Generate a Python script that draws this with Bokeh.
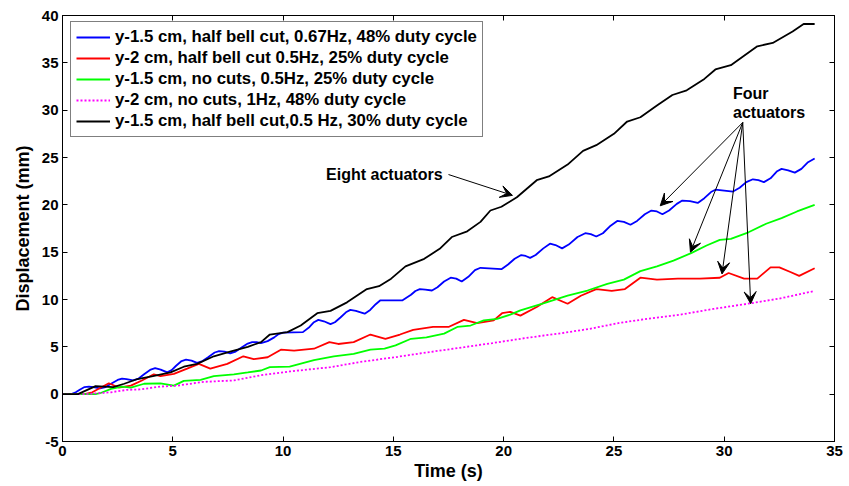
from bokeh.plotting import figure
from bokeh.models import Range1d, LinearAxis, Legend, LegendItem, Arrow, VeeHead, Label, FixedTicker
from bokeh.embed import file_html
from bokeh.resources import INLINE

# ---- data ----
blue_t = [0, 0.4, 0.6, 0.8, 1.0, 1.2, 1.4, 1.7, 1.95, 2.2, 2.5, 2.7, 2.9, 3.2, 3.45, 3.7, 4.0, 4.2, 4.45, 4.75,
          4.95, 5.15, 5.4, 5.6, 5.85, 6.1, 6.35, 6.6, 6.9, 7.1, 7.35, 7.6, 7.85, 8.1, 8.4, 8.6, 8.8, 9.0, 9.3,
          9.6, 9.8, 10.0, 10.9, 11.2, 11.4, 11.6, 11.85, 12.15, 12.35, 12.6, 12.85, 13.05, 13.3, 13.7, 13.95,
          14.2, 14.4, 15.4, 15.8, 16.0, 16.2, 16.45, 16.75, 17.0, 17.3, 17.6, 17.85, 18.1, 18.4, 18.7, 18.95,
          19.9, 20.2, 20.5, 20.8, 21.0, 21.2, 21.45, 21.8, 22.1, 22.35, 22.65, 22.95, 23.35, 23.7, 23.95, 24.2,
          24.5, 24.85, 25.15, 25.45, 25.75, 26.05, 26.4, 26.7, 26.95, 27.2, 27.5, 27.85, 28.1, 28.45, 28.8,
          29.1, 29.4, 29.6, 30.0, 30.4, 30.7, 31.0, 31.3, 31.55, 31.8, 32.1, 32.4, 32.6, 32.9, 33.2, 33.5,
          33.8, 34.1]
blue_y = [0, 0, 0.2, 0.5, 0.75, 0.8, 0.75, 0.6, 0.75, 1.1, 1.5, 1.65, 1.6, 1.45, 1.65, 2.1, 2.6, 2.75, 2.6, 2.3,
          2.55, 3.0, 3.5, 3.65, 3.55, 3.3, 3.5, 3.9, 4.4, 4.55, 4.5, 4.3, 4.5, 4.9, 5.35, 5.5, 5.5, 5.4, 5.6,
          6.0, 6.35, 6.5, 6.55, 7.1, 7.6, 7.85, 7.7, 7.4, 7.6, 8.1, 8.65, 8.9, 8.8, 8.5, 8.9,
          9.5, 9.9, 9.9, 10.5, 10.9, 11.1, 11.05, 10.95, 11.3, 11.9, 12.3, 12.2, 11.9, 12.4, 13.1, 13.35,
          13.2, 13.7, 14.3, 14.7, 14.6, 14.4, 14.7, 15.4, 15.9, 15.75, 15.4, 15.8, 16.6, 17.0, 16.9, 16.65,
          17.0, 17.8, 18.3, 18.2, 17.9, 18.3, 19.0, 19.4, 19.3, 19.0, 19.4, 20.1, 20.45, 20.4, 20.2,
          20.7, 21.35, 21.6, 21.5, 21.4, 21.8, 22.4, 22.7, 22.6, 22.4, 22.8, 23.55, 23.8, 23.65, 23.4, 23.8,
          24.5, 24.9]

red_t = [0, 1.0, 1.35, 2.1, 2.55, 3.1, 3.6, 4.14, 4.44, 5.05, 5.65, 6.18, 6.7, 7.47, 8.2, 8.67, 9.3, 9.9, 10.5,
         11.4, 12.1, 12.5, 13.2, 13.96, 14.64, 15.3, 15.9, 16.8, 17.5, 18.2, 18.8, 19.55, 19.93, 20.3, 20.76,
         21.5, 22.2, 22.9, 23.5, 24.2, 24.9, 25.5, 26.2, 26.95, 27.9, 28.9, 29.8, 30.2, 30.9, 31.5, 32.1, 32.5,
         33.0, 33.4, 34.1]
red_y = [0, 0, 0.2, 1.15, 0.7, 0.9, 1.45, 2.1, 1.9, 2.15, 2.7, 3.2, 2.7, 3.2, 4.0, 3.7, 3.9, 4.7, 4.6,
         4.8, 5.5, 5.3, 5.5, 6.3, 5.85, 6.3, 6.8, 7.1, 7.1, 7.85, 7.5, 7.8, 8.55, 8.7, 8.3,
         9.2, 10.25, 9.55, 10.4, 11.1, 10.9, 11.1, 12.3, 12.1, 12.2, 12.2, 12.3, 12.8, 12.2, 12.2, 13.4, 13.4,
         12.9, 12.5, 13.3]

green_t = [0, 1.5, 1.7, 2.2, 2.7, 3.1, 3.7, 4.44, 5.05, 5.5, 6.26, 6.86, 7.77, 8.4, 9.0, 9.4, 10.3, 11.4, 12.3,
           13.2, 13.96, 14.6, 15.1, 15.8, 16.5, 17.3, 17.9, 18.5, 19.1, 19.7, 20.3, 20.76, 21.8, 22.9, 23.8,
           24.7, 25.45, 26.2, 26.95, 27.7, 28.5, 29.2, 29.8, 30.3, 31.1, 31.9, 32.6, 33.3, 34.1]
green_y = [0, 0, 0.1, 0.55, 0.8, 0.7, 1.1, 1.15, 0.9, 1.4, 1.5, 1.9, 2.1, 2.3, 2.5, 2.85, 2.9, 3.6, 4.0,
           4.25, 4.7, 4.8, 5.15, 5.85, 6.0, 6.4, 7.1, 7.25, 7.8, 7.95, 8.4, 8.85, 9.6, 10.4, 10.95,
           11.65, 12.1, 13.0, 13.5, 14.1, 14.9, 15.7, 16.3, 16.4, 17.1, 18.0, 18.6, 19.3, 20.0]

mag_t = [0, 1.0, 2.2, 2.9, 3.5, 4.44, 5.2, 6.4, 7.77, 9.0, 10.3, 12.15, 13.5, 15.2, 16.5, 18.2, 19.5, 21.2,
         22.5, 23.9, 25.3, 26.5, 28.0, 29.5, 31.2, 32.5, 34.1]
mag_y = [0, 0, 0.2, 0.45, 0.5, 0.8, 0.9, 1.3, 1.45, 2.0, 2.4, 2.85, 3.4, 3.95, 4.4, 4.96, 5.4, 6.0,
         6.4, 6.9, 7.55, 7.95, 8.4, 9.0, 9.6, 10.1, 10.9]

black_t = [0, 0.7, 1.5, 2.3, 2.8, 3.4, 4.1, 4.9, 5.5, 6.1, 6.86, 7.6, 8.4, 9.0, 9.4, 10.2, 10.8, 11.55, 12.15,
           12.9, 13.8, 14.35, 14.9, 15.55, 16.4, 17.1, 17.65, 18.35, 18.95, 19.4, 19.9, 20.6, 21.5, 22.05,
           22.9, 23.6, 24.2, 25.0, 25.6, 26.2, 26.95, 27.65, 28.3, 29.1, 29.6, 30.3, 31.5, 32.2, 33.1, 33.6, 34.1]
black_y = [0, 0, 0.85, 0.75, 1.1, 1.6, 1.9, 2.3, 2.9, 3.2, 4.0, 4.5, 5.0, 5.5, 6.3, 6.55, 7.25, 8.55, 8.8,
           9.7, 11.1, 11.4, 12.2, 13.5, 14.3, 15.35, 16.6, 17.2, 18.2, 19.4, 19.8, 20.8, 22.6, 23.0,
           24.25, 25.7, 26.3, 27.5, 28.8, 29.25, 30.5, 31.6, 32.1, 33.3, 34.3, 34.75, 36.75, 37.1, 38.3, 39.1, 39.1]

labels = ["y-1.5 cm, half bell cut, 0.67Hz, 48% duty cycle",
          "y-2 cm, half bell cut 0.5Hz, 25% duty cycle",
          "y-1.5 cm, no cuts, 0.5Hz, 25% duty cycle",
          "y-2 cm, no cuts, 1Hz, 48% duty cycle",
          "y-1.5 cm, half bell cut,0.5 Hz, 30% duty cycle"]

x_ticks = [0, 5, 10, 15, 20, 25, 30, 35]
y_ticks = [-5, 0, 5, 10, 15, 20, 25, 30, 35, 40]
y_tick_labels = ["-5", "0", "5", "10", "15", "20", "25", "30", "35", "40"]

eight_text = "Eight actuators"
eight_pos = (11.95, 23.2)
eight_arrow = (17.5, 23.2, 20.4, 21.0)
four_text = ["Four", "actuators"]
four_pos = [(30.4, 31.75), (30.4, 29.75)]
four_start = (30.84, 28.7)
four_tips = [(27.1, 19.9), (28.47, 15.0), (29.9, 12.7), (31.2, 9.55)]

FONT = "Liberation Sans"

p = figure(width=849, height=486, x_range=Range1d(0, 35), y_range=Range1d(-5, 40),
           output_backend="svg", toolbar_location=None,
           min_border_left=62, min_border_right=15, min_border_top=15, min_border_bottom=45)
p.xgrid.visible = False
p.ygrid.visible = False
p.outline_line_color = "black"
p.outline_line_width = 1
p.background_fill_color = "white"
p.border_fill_color = "white"

def style_axis(ax, ticks, show_labels=True):
    ax.ticker = FixedTicker(ticks=ticks)
    ax.major_tick_in = 5
    ax.major_tick_out = 0
    ax.minor_tick_in = 0
    ax.minor_tick_out = 0
    ax.axis_line_color = "black"
    ax.major_tick_line_color = "black"
    ax.major_label_text_font = FONT
    ax.major_label_text_font_style = "bold"
    ax.major_label_text_color = "black"
    ax.major_label_text_font_size = "15px"
    if show_labels:
        ax.major_label_standoff = 4
    else:
        ax.major_label_overrides = {t: "" for t in ticks}
        ax.major_label_standoff = 0

style_axis(p.xaxis[0], x_ticks)
style_axis(p.yaxis[0], y_ticks)
p.yaxis[0].major_label_overrides = dict(zip(y_ticks, y_tick_labels))
p.xaxis[0].axis_label = "Time (s)"
p.yaxis[0].axis_label = "Displacement (mm)"
for ax in (p.xaxis[0], p.yaxis[0]):
    ax.axis_label_text_font = FONT
    ax.axis_label_text_font_style = "bold"
    ax.axis_label_text_font_size = "18px"
    ax.axis_label_text_color = "black"
p.xaxis[0].axis_label_standoff = 2
p.yaxis[0].axis_label_standoff = 6

top = LinearAxis()
style_axis(top, x_ticks, show_labels=False)
p.add_layout(top, "above")
right = LinearAxis()
style_axis(right, y_ticks, show_labels=False)
p.add_layout(right, "right")

r_blue = p.line(blue_t, blue_y, line_color="#0000FF", line_width=1.8)
r_red = p.line(red_t, red_y, line_color="#FF0000", line_width=1.8)
r_green = p.line(green_t, green_y, line_color="#00FF00", line_width=1.8)
r_mag = p.line(mag_t, mag_y, line_color="#FF00FF", line_width=1.8, line_dash="2 2")
r_black = p.line(black_t, black_y, line_color="black", line_width=1.8)

legend = Legend(items=[LegendItem(label=labels[0], renderers=[r_blue]),
                       LegendItem(label=labels[1], renderers=[r_red]),
                       LegendItem(label=labels[2], renderers=[r_green]),
                       LegendItem(label=labels[3], renderers=[r_mag]),
                       LegendItem(label=labels[4], renderers=[r_black])],
                location=(8, 304))
legend.border_line_color = "black"
legend.border_line_width = 1
legend.background_fill_color = "white"
legend.background_fill_alpha = 1
legend.label_text_font = FONT
legend.label_text_font_style = "bold"
legend.label_text_font_size = "16.8px"
legend.label_text_color = "black"
legend.glyph_width = 34
legend.glyph_height = 20
legend.label_height = 20
legend.label_standoff = 5
legend.spacing = 1
legend.padding = 5
legend.margin = 0
p.add_layout(legend)

def add_arrow(x0, y0, x1, y1):
    p.add_layout(Arrow(end=VeeHead(size=12, fill_color="black", line_color="black", line_width=1),
                       x_start=x0, y_start=y0, x_end=x1, y_end=y1,
                       line_color="black", line_width=1))

add_arrow(*eight_arrow)
for tx, ty in four_tips:
    add_arrow(four_start[0], four_start[1], tx, ty)

p.add_layout(Label(x=eight_pos[0], y=eight_pos[1], text=eight_text, text_font=FONT,
                   text_font_style="bold", text_font_size="16px", text_baseline="middle",
                   text_color="black"))
for txt, (lx, ly) in zip(four_text, four_pos):
    p.add_layout(Label(x=lx, y=ly, text=txt, text_font=FONT, text_font_style="bold",
                       text_font_size="16px", text_baseline="middle", text_color="black"))

open("out.html", "w").write(file_html(p, INLINE))
